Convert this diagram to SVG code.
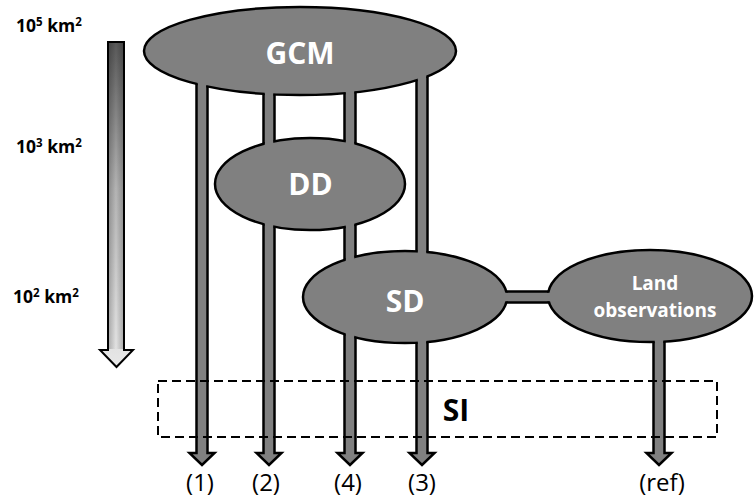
<svg xmlns="http://www.w3.org/2000/svg" width="754" height="501" viewBox="0 0 754 501">
<style>
.conn{fill:#808080;stroke:#000;stroke-width:2.5;stroke-linejoin:miter}
.nfill{fill:#808080;stroke:none}
.nstroke{fill:none;stroke:#000;stroke-width:2.5}
.nlabel{font-family:"Open Sans","Liberation Sans",sans-serif;font-weight:bold;fill:#fff;text-anchor:middle}
.scale{font-family:"Open Sans","Liberation Sans",sans-serif;font-weight:bold;font-size:17.5px;fill:#000}
.out{font-family:"Open Sans","Liberation Sans",sans-serif;font-size:24px;fill:#000;text-anchor:middle}
</style>
<defs>
<linearGradient id="gscale" x1="0" y1="42" x2="0" y2="367" gradientUnits="userSpaceOnUse">
<stop offset="0" stop-color="#585858"/>
<stop offset="0.45" stop-color="#b4b4b4"/>
<stop offset="1" stop-color="#e8e8e8"/>
</linearGradient>
<linearGradient id="gshade" x1="108" y1="0" x2="124" y2="0" gradientUnits="userSpaceOnUse">
<stop offset="0" stop-color="#000" stop-opacity="0.25"/>
<stop offset="0.5" stop-color="#000" stop-opacity="0"/>
<stop offset="1" stop-color="#000" stop-opacity="0.25"/>
</linearGradient>
<mask id="m-gcm" maskUnits="userSpaceOnUse" x="0" y="0" width="754" height="501">
<rect x="0" y="0" width="754" height="501" fill="#fff"/>
<rect x="197.75" y="60" width="8.5" height="70" fill="#000"/>
<rect x="264.75" y="60" width="8.5" height="70" fill="#000"/>
<rect x="345.75" y="60" width="8.5" height="70" fill="#000"/>
<rect x="417.75" y="60" width="8.5" height="70" fill="#000"/>
</mask>
<mask id="m-dd" maskUnits="userSpaceOnUse" x="0" y="0" width="754" height="501">
<rect x="0" y="0" width="754" height="501" fill="#fff"/>
<rect x="264.75" y="120" width="8.5" height="130" fill="#000"/>
<rect x="345.75" y="120" width="8.5" height="130" fill="#000"/>
</mask>
<mask id="m-sd" maskUnits="userSpaceOnUse" x="0" y="0" width="754" height="501">
<rect x="0" y="0" width="754" height="501" fill="#fff"/>
<rect x="345.75" y="240" width="8.5" height="120" fill="#000"/>
<rect x="417.75" y="240" width="8.5" height="120" fill="#000"/>
<rect x="480" y="292.75" width="60" height="8.5" fill="#000"/>
</mask>
<mask id="m-land" maskUnits="userSpaceOnUse" x="0" y="0" width="754" height="501">
<rect x="0" y="0" width="754" height="501" fill="#fff"/>
<rect x="654.75" y="300" width="8.5" height="60" fill="#000"/>
<rect x="530" y="292.75" width="40" height="8.5" fill="#000"/>
</mask>
</defs>
<rect width="754" height="501" fill="#fff"/>

<g id="scale">
<path d="M108 42 H124 V350 H133 L116.5 367 L100 350 H108 Z" fill="url(#gscale)" stroke="#000" stroke-width="2"/>
<rect x="109" y="43" width="14" height="306" fill="url(#gshade)"/>
<text class="scale" x="16" y="32">10<tspan font-size="11.5" dy="-6">5</tspan><tspan dy="6"> km</tspan><tspan font-size="11.5" dy="-6">2</tspan></text>
<text class="scale" x="16" y="153">10<tspan font-size="11.5" dy="-6">3</tspan><tspan dy="6"> km</tspan><tspan font-size="11.5" dy="-6">2</tspan></text>
<text class="scale" x="13" y="303">10<tspan font-size="11.5" dy="-6">2</tspan><tspan dy="6"> km</tspan><tspan font-size="11.5" dy="-6">2</tspan></text>
</g>

<g id="connectors">
<path class="conn" d="M196.5 60 V453 H189.5 L202 465 L214.5 453 H207.5 V60 Z"/>
<path class="conn" d="M263.5 60 V453 H256.5 L269 465 L281.5 453 H274.5 V60 Z"/>
<path class="conn" d="M344.5 60 V453 H337.5 L350 465 L362.5 453 H355.5 V60 Z"/>
<path class="conn" d="M416.5 60 V453 H409.5 L422 465 L434.5 453 H427.5 V60 Z"/>
<path class="conn" d="M653.5 296 V453 H646.5 L659 465 L671.5 453 H664.5 V296 Z"/>
<rect class="conn" x="480" y="291.5" width="90" height="11"/>
</g>

<g id="GCM">
<ellipse class="nfill" cx="300" cy="51" rx="156" ry="44"/>
<ellipse class="nstroke" cx="300" cy="51" rx="156" ry="44" mask="url(#m-gcm)"/>
<text class="nlabel" x="300" y="64" font-size="30">GCM</text>
</g>

<g id="DD">
<ellipse class="nfill" cx="310" cy="184" rx="95" ry="46"/>
<ellipse class="nstroke" cx="310" cy="184" rx="95" ry="46" mask="url(#m-dd)"/>
<text class="nlabel" x="310.5" y="195" font-size="30">DD</text>
</g>

<g id="SD">
<ellipse class="nfill" cx="405" cy="297" rx="102" ry="46"/>
<ellipse class="nstroke" cx="405" cy="297" rx="102" ry="46" mask="url(#m-sd)"/>
<text class="nlabel" x="405" y="312" font-size="30">SD</text>
</g>

<g id="LandObs">
<ellipse class="nfill" cx="650" cy="296" rx="102" ry="46"/>
<ellipse class="nstroke" cx="650" cy="296" rx="102" ry="46" mask="url(#m-land)"/>
<text class="nlabel" x="655" y="290" font-size="19">Land</text>
<text class="nlabel" x="655" y="317" font-size="19">observations</text>
</g>

<g id="SI">
<rect x="158" y="381" width="559" height="56" fill="none" stroke="#000" stroke-width="2" stroke-dasharray="9 5"/>
<text x="456" y="421" font-family="Open Sans, Liberation Sans, sans-serif" font-weight="bold" font-size="30" fill="#000" text-anchor="middle">SI</text>
</g>

<g id="outputs">
<text class="out" x="200" y="491">(1)</text>
<text class="out" x="266" y="491">(2)</text>
<text class="out" x="348" y="491">(4)</text>
<text class="out" x="422" y="491">(3)</text>
<text class="out" x="662" y="491">(ref)</text>
</g>
</svg>
